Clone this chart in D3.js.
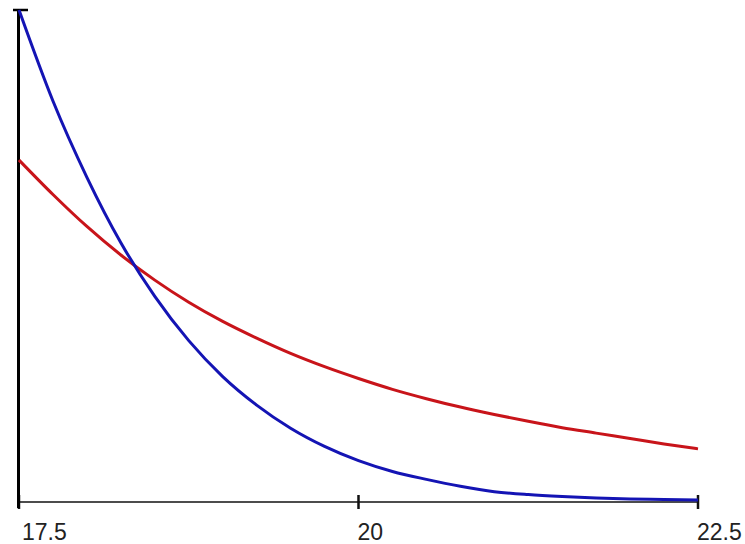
<!DOCTYPE html>
<html>
<head>
<meta charset="utf-8">
<script src="https://cdn.jsdelivr.net/npm/d3@7"></script>
<style>
  html, body { margin: 0; padding: 0; background: #fff; }
  svg { display: block; }
  .tick-label { font-family: "Liberation Sans", Arial, sans-serif; font-size: 23px; fill: #222; }
</style>
</head>
<body>
<svg id="chart" width="745" height="544"></svg>
<script>
// Sample positions along x
const xValues = [17.5, 17.75, 18, 18.25, 18.5, 18.75, 19, 19.25, 19.5, 19.75, 20,
                 20.25, 20.5, 20.75, 21, 21.25, 21.5, 21.75, 22, 22.25, 22.5];

// Steeply decaying series (blue)
const blueValues = [1.0, 0.815, 0.660, 0.527, 0.418, 0.328, 0.255, 0.197, 0.150, 0.113, 0.084,
                    0.062, 0.046, 0.032, 0.021, 0.015, 0.011, 0.008, 0.006, 0.005, 0.004];

// Slowly decaying series (red)
const redValues = [0.695, 0.625, 0.560, 0.502, 0.451, 0.406, 0.367, 0.333, 0.302, 0.275, 0.251,
                   0.229, 0.210, 0.193, 0.178, 0.164, 0.151, 0.140, 0.129, 0.118, 0.108];

// Axis tick values and their labels
const xTicks = [17.5, 20, 22.5];
const xTickLabels = ["17.5", "20", "22.5"];

const svg = d3.select("#chart");

const x = d3.scaleLinear().domain([17.5, 22.5]).range([19, 698]);
const y = d3.scaleLinear().domain([0, 1]).range([502, 10]);

// x axis line
svg.append("line")
  .attr("x1", x(17.5)).attr("x2", x(22.5))
  .attr("y1", y(0)).attr("y2", y(0))
  .attr("stroke", "#111").attr("stroke-width", 1.5);

// x ticks and labels
const tickG = svg.append("g");
xTicks.forEach((t, i) => {
  tickG.append("line")
    .attr("x1", x(t)).attr("x2", x(t))
    .attr("y1", y(0) - 7).attr("y2", y(0) + 7)
    .attr("stroke", "#111").attr("stroke-width", 2.5);
  tickG.append("text")
    .attr("class", "tick-label")
    .attr("x", x(t) + (i === 0 ? 3 : -1))
    .attr("y", 540)
    .attr("text-anchor", "start")
    .text(xTickLabels[i]);
});

// y axis
svg.append("line")
  .attr("x1", x(17.5) - 0.5).attr("x2", x(17.5) - 0.5)
  .attr("y1", y(1)).attr("y2", y(0) + 6)
  .attr("stroke", "#000").attr("stroke-width", 3);
svg.append("line")
  .attr("x1", x(17.5) - 6).attr("x2", x(17.5) + 9)
  .attr("y1", y(1)).attr("y2", y(1))
  .attr("stroke", "#000").attr("stroke-width", 2.5);

const line = d3.line()
  .x((d, i) => x(xValues[i]))
  .y(d => y(d))
  .curve(d3.curveMonotoneX);

svg.append("path")
  .datum(redValues)
  .attr("d", line)
  .attr("fill", "none")
  .attr("stroke", "#c8141a")
  .attr("stroke-width", 3);

svg.append("path")
  .datum(blueValues)
  .attr("d", line)
  .attr("fill", "none")
  .attr("stroke", "#1414b4")
  .attr("stroke-width", 3);
</script>
</body>
</html>
